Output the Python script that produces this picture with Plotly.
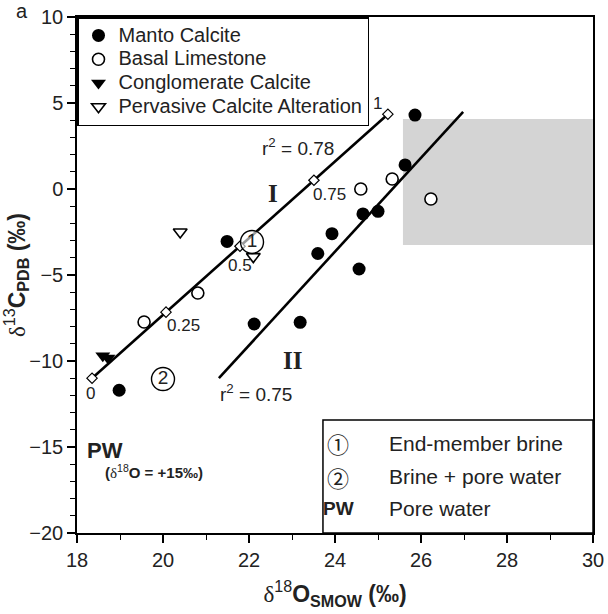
import plotly.graph_objects as go

# ---------------- data ----------------
manto_x = [18.98, 21.49, 22.12, 23.19, 23.60, 23.93, 24.56, 24.65, 25.00, 25.63, 25.86]
manto_y = [-11.7, -3.05, -7.85, -7.75, -3.75, -2.60, -4.65, -1.45, -1.30, 1.40, 4.30]

basal_x = [19.56, 20.81, 24.60, 25.33, 26.23]
basal_y = [-7.73, -6.05, 0.00, 0.58, -0.58]

congl_x = [18.60, 18.72]
congl_y = [-9.70, -9.82]

perv_x = [20.40, 22.10]
perv_y = [-2.50, -3.93]

line1_x = [18.35, 25.23]
line1_y = [-11.00, 4.35]
line2_x = [21.30, 26.98]
line2_y = [-11.00, 4.48]

mix_frac = ["0", "0.25", "0.5", "0.75", "1"]
mix_x = [18.35, 20.07, 21.79, 23.51, 25.23]
mix_y = [-11.00, -7.16, -3.33, 0.51, 4.35]

box_x = [25.58, 30.0]
box_y = [-3.26, 4.07]

x_ticks = [18, 20, 22, 24, 26, 28, 30]
y_ticks = [-20, -15, -10, -5, 0, 5, 10]

FONT = "Liberation Sans, Arial, sans-serif"
SERIF = "Liberation Serif, Times New Roman, serif"
CJK = "Noto Sans CJK JP, DejaVu Sans, sans-serif"
TXT = "#222222"


def big(name):
    return "<span style='font-size:20px'>" + name + "</span>"


fig = go.Figure()

# gray field
fig.add_shape(type="rect", x0=box_x[0], x1=box_x[1], y0=box_y[0], y1=box_y[1],
              fillcolor="#d4d4d4", line=dict(width=0), layer="below")

# regression lines
fig.add_trace(go.Scatter(x=line1_x, y=line1_y, mode="lines",
                         line=dict(color="black", width=2.6), showlegend=False, hoverinfo="skip"))
fig.add_trace(go.Scatter(x=line2_x, y=line2_y, mode="lines",
                         line=dict(color="black", width=2.6), showlegend=False, hoverinfo="skip"))

# data series
fig.add_trace(go.Scatter(x=manto_x, y=manto_y, mode="markers", name=big("Manto Calcite"),
                         marker=dict(symbol="circle", size=13, color="black")))
fig.add_trace(go.Scatter(x=basal_x, y=basal_y, mode="markers", name=big("Basal Limestone"),
                         marker=dict(symbol="circle", size=12, color="white",
                                     line=dict(color="black", width=1.6))))
fig.add_trace(go.Scatter(x=congl_x, y=congl_y, mode="markers", name=big("Conglomerate Calcite"),
                         marker=dict(symbol="triangle-down", size=13, color="black")))
fig.add_trace(go.Scatter(x=perv_x, y=perv_y, mode="markers", name=big("Pervasive Calcite Alteration"),
                         marker=dict(symbol="triangle-down", size=12, color="white",
                                     line=dict(color="black", width=1.6))))

# mixing diamonds
fig.add_trace(go.Scatter(x=mix_x, y=mix_y, mode="markers", showlegend=False, hoverinfo="skip",
                         marker=dict(symbol="diamond", size=8, color="white",
                                     line=dict(color="black", width=1.2))))

# circled 1 and 2 on the chart
circ_x = [22.07, 20.00]
circ_y = [-3.08, -11.05]
circ_lab = ["1", "2"]
fig.add_trace(go.Scatter(x=circ_x, y=circ_y, mode="markers+text", showlegend=False, hoverinfo="skip",
                         text=circ_lab, textposition="middle center",
                         textfont=dict(family=FONT, size=19, color=TXT),
                         marker=dict(symbol="circle", size=23, color="rgba(255,255,255,0.6)",
                                     line=dict(color="black", width=1.4))))

ann = []
# mixing labels
offs = [(-2, -15), (17, -13), (0, -19), (16, -14), (-10, 11)]
for fx, xx, yy, (dx, dy) in zip(mix_frac, mix_x, mix_y, offs):
    ann.append(dict(x=xx, y=yy, text=fx, showarrow=False, xshift=dx, yshift=dy,
                    font=dict(family=FONT, size=17, color=TXT)))

ann += [
    dict(x=23.14, y=2.45, text="r<sup>2</sup> = 0.78", showarrow=False,
         font=dict(family=FONT, size=19, color=TXT)),
    dict(x=22.16, y=-11.85, text="r<sup>2</sup> = 0.75", showarrow=False,
         font=dict(family=FONT, size=19, color=TXT)),
    dict(x=22.56, y=-0.25, text="<b>I</b>", showarrow=False,
         font=dict(family=SERIF, size=25, color=TXT)),
    dict(x=23.02, y=-9.95, text="<b>II</b>", showarrow=False,
         font=dict(family=SERIF, size=25, color=TXT)),
    dict(x=18.65, y=-15.2, text="<b>PW</b>", showarrow=False,
         font=dict(family=FONT, size=22, color=TXT)),
    dict(x=19.78, y=-16.45,
         text="<b>(</b><span style='font-family:Liberation Serif'>δ</span><sup>18</sup><b>O = +15‰)</b>",
         showarrow=False, font=dict(family=FONT, size=15, color=TXT)),
    dict(x=-0.122, y=1.012, xref="paper", yref="paper", text="a", showarrow=False,
         xanchor="left", yanchor="middle", font=dict(family=FONT, size=20, color=TXT)),
]

# bottom-right key box
fig.add_shape(type="rect", x0=23.72, x1=30.0, y0=-20.0, y1=-13.43,
              fillcolor="white", line=dict(color="black", width=1.5))
key_sym = ["①", "②", "<b>PW</b>"]
key_txt = ["End-member brine", "Brine + pore water", "Pore water"]
key_y = [-14.77, -16.74, -18.55]
key_font = [CJK, CJK, FONT]
key_size = [22, 22, 19]
for s, t, yy, kf, ks in zip(key_sym, key_txt, key_y, key_font, key_size):
    ann.append(dict(x=24.07, y=yy, text=s, showarrow=False,
                    font=dict(family=kf, size=ks, color=TXT)))
    ann.append(dict(x=25.21, y=yy, text=t, showarrow=False, xanchor="left",
                    font=dict(family=FONT, size=21, color=TXT)))

fig.update_layout(
    template="none",
    width=608, height=614,
    margin=dict(l=77, r=15, t=17, b=81, pad=0),
    plot_bgcolor="white", paper_bgcolor="white",
    font=dict(family=FONT, color=TXT),
    annotations=ann,
    legend=dict(x=0, y=1, xanchor="left", yanchor="top", bgcolor="white",
                bordercolor="black", borderwidth=1.5,
                font=dict(family=FONT, size=16, color=TXT),
                itemsizing="trace", tracegroupgap=0),
    xaxis=dict(range=[18, 30], tickvals=x_ticks, ticks="outside", ticklen=8, tickwidth=1.5,
               tickcolor="black", showline=True, linecolor="black", linewidth=1.5, mirror=True,
               showgrid=False, zeroline=False, automargin=False,
               minor=dict(dtick=1, ticks="outside", ticklen=5, tickwidth=1.2, tickcolor="black"),
               tickfont=dict(family=FONT, size=20, color=TXT),
               title=dict(text="<span style='font-family:Liberation Serif'>δ</span><sup>18</sup><b>O<sub>SMOW</sub> (‰)</b>",
                          font=dict(family=FONT, size=23, color=TXT), standoff=16)),
    yaxis=dict(range=[-20, 10], tickvals=y_ticks, ticks="outside", ticklen=8, tickwidth=1.5,
               tickcolor="black", showline=True, linecolor="black", linewidth=1.5, mirror=True,
               showgrid=False, zeroline=False, automargin=False,
               minor=dict(dtick=1, ticks="outside", ticklen=5, tickwidth=1.2, tickcolor="black"),
               tickfont=dict(family=FONT, size=20, color=TXT),
               title=dict(text="<span style='font-family:Liberation Serif'>δ</span><sup>13</sup><b>C<sub>PDB</sub> (‰)</b>",
                          font=dict(family=FONT, size=23, color=TXT), standoff=2)),
)

fig.write_html("out.html",
               config={"displayModeBar": False},
               post_script="document.body.style.margin='0';document.body.style.padding='0';")
